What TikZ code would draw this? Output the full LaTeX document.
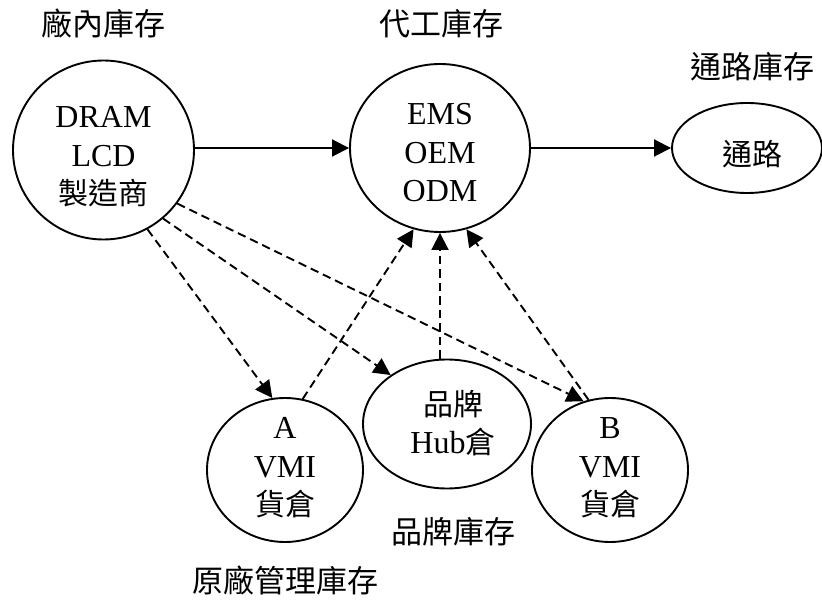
\documentclass[tikz,border=0pt]{standalone}
\usepackage{fontspec}
\setmainfont{Liberation Serif}
\newfontfamily\cjk{Noto Sans CJK TC}
\usetikzlibrary{arrows.meta,shapes.geometric}

\newcommand\zh[1]{{\cjk\fontsize{30}{32}\selectfont #1}}

\begin{document}
\begin{tikzpicture}[x=1pt,y=-1pt,
  bubble/.style={draw, ellipse, line width=1.9pt, inner sep=0pt},
  inner/.style={inner sep=0pt, align=center, font=\fontsize{32}{38.5}\selectfont},
  caption/.style={inner sep=0pt, font=\cjk\fontsize{31}{34}\selectfont},
  flow/.style={line width=1.9pt, -{Triangle[length=17pt,width=17pt]}},
  supply/.style={flow, dash pattern=on 8.5pt off 5pt}
]
\useasboundingbox (0,0) rectangle (822,601);

% inventory holders
\node[bubble, minimum width=181pt, minimum height=179pt] (dram) at (103.5,150) {};
\node[bubble, minimum width=180pt, minimum height=168pt] (ems)  at (440,148) {};
\node[bubble, minimum width=150pt, minimum height=90pt]  (ch)   at (747,148) {};
\node[bubble, minimum width=156pt, minimum height=144pt] (vmia) at (285,470) {};
\node[bubble, minimum width=168pt, minimum height=129pt] (hub)  at (447,424) {};
\node[bubble, minimum width=156pt, minimum height=144pt] (vmib) at (610,470) {};

% texts inside the holders
\node[inner] (dramtxt) at (103.5,157) {DRAM\\LCD\\\zh{製造商}};
\node[inner] (emstxt)  at (440,153) {EMS\\OEM\\ODM};
\node[inner] (chtxt)   at (752,154) {\zh{通路}};
\node[inner] (vmiatxt) at (285,468) {A\\VMI\\\zh{貨倉}};
\node[inner] (hubtxt)  at (453,423) {\zh{品牌}\\Hub\zh{倉}};
\node[inner] (vmibtxt) at (610,468) {B\\VMI\\\zh{貨倉}};

% stage captions
\node[caption] (c1) at (103,24)  {廠內庫存};
\node[caption] (c2) at (441,24)  {代工庫存};
\node[caption] (c3) at (752,67)  {通路庫存};
\node[caption] (c4) at (453,532) {品牌庫存};
\node[caption] (c5) at (285,581) {原廠管理庫存};

% main flow
\draw[flow] (dram.east |- ems.west) -- (ems.west);
\draw[flow] (ems.east) -- (ch.west);

% shipments to the warehouses
\draw[supply] (dram.-61) -- (vmia.100);
\draw[supply] (dram.-49) -- (hub.139);
\draw[supply] (dram.-36) -- (vmib.111);

% pulls from the warehouses to the makers
\draw[supply] (vmia.76) -- (ems.-108);
\draw[supply] (ems.south |- hub.north) -- (ems.south);
\draw[supply] (vmib.107) -- (ems.-72);
\end{tikzpicture}
\end{document}
